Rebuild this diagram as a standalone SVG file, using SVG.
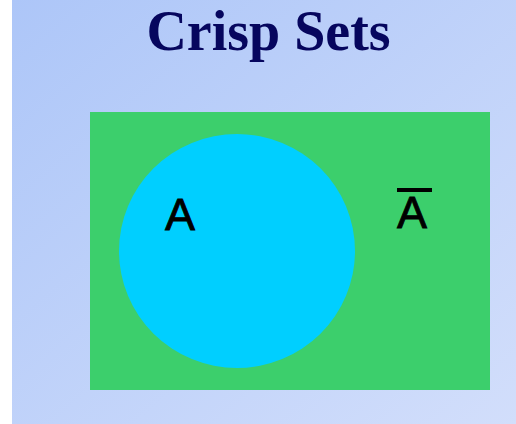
<svg xmlns="http://www.w3.org/2000/svg" width="516" height="424" viewBox="0 0 516 424">
<defs>
<linearGradient id="bg" x1="0" y1="0" x2="1" y2="1">
<stop offset="0" stop-color="#adc6f8"/>
<stop offset="1" stop-color="#d2defb"/>
</linearGradient>
<style>
.lbl{font-family:"Liberation Sans",Arial,sans-serif;font-size:45px;fill:#000;stroke:#000;stroke-width:0.8}
.title{font-family:"Liberation Serif","Times New Roman",serif;font-size:56px;font-weight:bold;fill:#06065e}
</style>
</defs>
<rect x="0" y="0" width="516" height="424" fill="#ffffff"/>
<rect x="12" y="0" width="504" height="424" fill="url(#bg)"/>
<g id="title"><text class="title" x="268.5" y="50" text-anchor="middle">Crisp Sets</text></g>
<g id="universe">
<rect x="90" y="112" width="400" height="278" fill="#3ccf6c"/>
<text class="lbl" x="397" y="228">A</text>
<rect x="397" y="188" width="35" height="4" fill="#000"/>
</g>
<g id="setA">
<ellipse cx="237" cy="251" rx="118" ry="117" fill="#00cfff"/>
<text class="lbl" x="165" y="230">A</text>
</g>
</svg>
